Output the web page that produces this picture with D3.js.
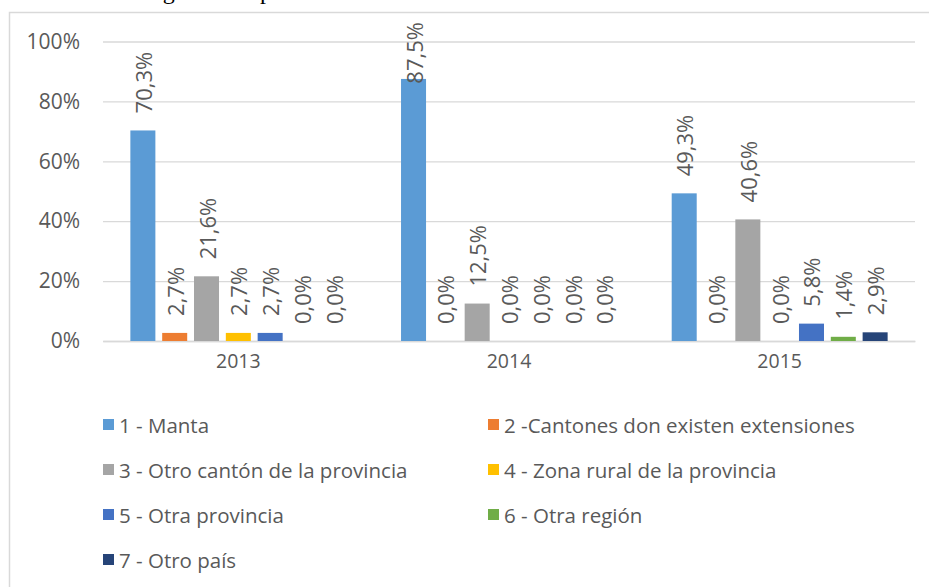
<!DOCTYPE html>
<meta charset="utf-8">
<style>
body { margin: 0; background: #fff; }
svg { display: block; }
text { font-family: 'Open Sans', sans-serif; fill: #595959; }
.tick line { stroke: #d9d9d9; }
</style>
<body>
<div class="viz"></div>
<script src="https://cdn.jsdelivr.net/npm/d3@7"></script>
<script>
// data
const years = ["2013", "2014", "2015"];
const series = [
  "1 - Manta",
  "2 -Cantones don existen extensiones",
  "3 - Otro cantón de la provincia",
  "4 - Zona rural de la provincia",
  "5 - Otra provincia",
  "6 - Otra región",
  "7 - Otro país"
];
const colors = ["#5B9BD5", "#ED7D31", "#A5A5A5", "#FFC000", "#4472C4", "#70AD47", "#264478"];
const v2013 = [70.3, 2.7, 21.6, 2.7, 2.7, 0.0, 0.0];
const v2014 = [87.5, 0.0, 12.5, 0.0, 0.0, 0.0, 0.0];
const v2015 = [49.3, 0.0, 40.6, 0.0, 5.8, 1.4, 2.9];
const yTicks = [0, 20, 40, 60, 80, 100];

const values = [v2013, v2014, v2015];
const data = [];
years.forEach((yr, i) => {
  series.forEach((s, j) => data.push({year: yr, serie: s, value: values[i][j], color: colors[j]}));
});

const W = 929, H = 587;
const plot = {left: 103, right: 915, top: 41.5, bottom: 341};

const svg = d3.select(".viz").append("svg")
    .attr("width", W)
    .attr("height", H);

// caption fragment, cut off at the top edge like in the picture
svg.append("text")
    .attr("x", 136)
    .attr("y", -1.5)
    .style("font-family", "'Liberation Serif', serif")
    .style("font-size", "24px")
    .style("word-spacing", "16px")
    .style("fill", "#000")
    .text("Lugar de procedencia");

// chart frame
svg.append("rect")
    .attr("x", 9.5)
    .attr("y", 12.5)
    .attr("width", 960)
    .attr("height", 600)
    .attr("fill", "#fff")
    .attr("stroke", "#d9d9d9")
    .attr("stroke-width", 1.5);

var x0 = d3.scaleBand()
    .domain(years)
    .range([plot.left, plot.right])
    .padding(0);

var x1 = d3.scaleBand()
    .domain(series)
    .range([0, x0.bandwidth()])
    .paddingInner(0.214)
    .paddingOuter(0.86);

var y = d3.scaleLinear()
    .domain([0, 100])
    .range([plot.bottom, plot.top]);

// gridlines + y labels
svg.append("g")
    .attr("transform", "translate(" + plot.left + ",0)")
    .call(d3.axisLeft(y)
      .tickValues(yTicks)
      .tickSize(-(plot.right - plot.left))
      .tickPadding(23)
      .tickFormat(d => d + "%"))
    .call(g => g.select(".domain").remove())
    .call(g => g.selectAll(".tick line").attr("stroke", "#d9d9d9").attr("stroke-width", 1.3))
    .call(g => g.selectAll(".tick text").style("font-size", "21px").style("fill", "#595959")
      .style("font-family", "'Open Sans', sans-serif"));

// x axis
svg.append("g")
    .attr("transform", "translate(0," + plot.bottom + ")")
    .call(d3.axisBottom(x0).tickSize(0).tickPadding(13))
    .call(g => g.select(".domain").attr("stroke", "#d9d9d9").attr("stroke-width", 1.3))
    .call(g => g.selectAll(".tick text").style("font-size", "19.5px").style("fill", "#595959")
      .style("font-family", "'Open Sans', sans-serif"));

// bars
var groups = svg.selectAll(".grp")
    .data(years)
    .enter()
    .append("g")
    .attr("class", "grp")
    .attr("transform", d => "translate(" + x0(d) + ",0)");

groups.selectAll("rect")
    .data(yr => data.filter(d => d.year == yr))
    .enter()
    .append("rect")
    .attr("x", d => x1(d.serie))
    .attr("y", d => y(d.value))
    .attr("width", x1.bandwidth())
    .attr("height", d => y(0) - y(d.value))
    .attr("fill", d => d.color);

// value labels, rotated
const loc = d3.formatLocale({decimal: ",", thousands: ".", grouping: [3], currency: ["", ""]});
const fmt = loc.format(".1f");

groups.selectAll(".lbl")
    .data(yr => data.filter(d => d.year == yr))
    .enter()
    .append("text")
    .attr("class", "lbl")
    .style("font-size", "22px")
    .attr("dominant-baseline", "central")
    .text(d => fmt(d.value) + "%")
    .attr("transform", function(d) {
      var len = this.getComputedTextLength();
      var base = y(d.value) - 17;
      if (base - len < 22) base = 22 + len;
      return "translate(" + (x1(d.serie) + x1.bandwidth() / 2) + "," + base + ") rotate(-90)";
    });

// legend
var legend = svg.selectAll(".leg")
    .data(series)
    .enter()
    .append("g")
    .attr("class", "leg")
    .attr("transform", (d, i) => "translate(" + (i % 2 ? 488 : 103) + "," + (425 + Math.floor(i / 2) * 45) + ")");

legend.append("rect")
    .attr("x", 0)
    .attr("y", -6)
    .attr("width", 11)
    .attr("height", 11)
    .attr("fill", (d, i) => colors[i]);

legend.append("text")
    .attr("x", 16)
    .attr("y", 0)
    .attr("dominant-baseline", "central")
    .style("font-size", "20.5px")
    .text(d => d);
</script>
</body>
